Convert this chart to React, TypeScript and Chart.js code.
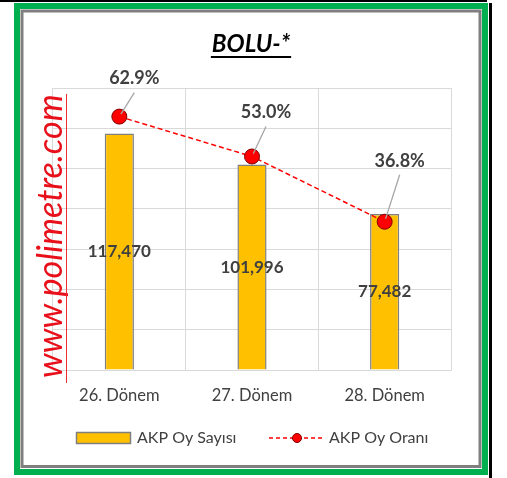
import React, { useEffect, useRef } from "react";
import { Chart, registerables } from "chart.js";

Chart.register(...registerables);

const TITLE = "BOLU-*";
const WATERMARK = "www.polimetre.com";
const CATEGORIES = ["26. Dönem", "27. Dönem", "28. Dönem"];
const VOTES = [117470, 101996, 77482];
const SHARES = [62.9, 53.0, 36.8];
const SERIES_BAR = "AKP Oy Sayısı";
const SERIES_LINE = "AKP Oy Oranı";

const W = 507;
const H = 478;
const FONT = "Lato, 'Open Sans', sans-serif";
const TEXT = "#404040";
const BAR_FILL = "#FFC000";
const BAR_EDGE = "#7F7F7F";
const RED = "#FF0000";
const GRID = "#D9D9D9";
const LABEL_OFFSETS = [
  [15, -38],
  [14, -44],
  [15, -61],
];

const fmt = (v: number) => v.toLocaleString("en-US");

const decor = {
  id: "decor",
  beforeDraw(chart: any) {
    const ctx = chart.ctx as CanvasRenderingContext2D;
    ctx.save();
    ctx.fillStyle = "#FFFFFF";
    ctx.fillRect(0, 0, W, H);
    ctx.fillStyle = "#000000";
    ctx.fillRect(0, 0, 487, 2);
    ctx.fillRect(489, 3, 3, H - 3);
    ctx.strokeStyle = "#00B050";
    ctx.lineWidth = 6;
    ctx.strokeRect(17, 6, 468, 466);
    ctx.strokeStyle = "#7F7F7F";
    ctx.lineWidth = 3;
    ctx.strokeRect(22, 11, 458, 455.5);
    ctx.restore();
  },
  afterDatasetsDraw(chart: any) {
    const ctx = chart.ctx as CanvasRenderingContext2D;
    ctx.save();
    const barMeta = chart.getDatasetMeta(0);
    ctx.fillStyle = TEXT;
    ctx.font = `bold 17px ${FONT}`;
    ctx.textAlign = "center";
    ctx.textBaseline = "middle";
    barMeta.data.forEach((el: any, i: number) => {
      ctx.fillText(fmt(VOTES[i]), el.x, (el.y + el.base) / 2);
    });
    const lineMeta = chart.getDatasetMeta(1);
    lineMeta.data.forEach((el: any, i: number) => {
      const [dx, dy] = LABEL_OFFSETS[i];
      const lx = el.x + dx;
      const ly = el.y + dy;
      const sx = lx;
      const sy = ly + 14;
      const vx = sx - el.x;
      const vy = sy - el.y;
      const len = Math.hypot(vx, vy);
      const ex = el.x + (vx / len) * 3;
      const ey = el.y + (vy / len) * 3;
      ctx.strokeStyle = "#A6A6A6";
      ctx.lineWidth = 1.3;
      ctx.beginPath();
      ctx.moveTo(sx, sy);
      ctx.lineTo(ex, ey);
      ctx.stroke();
      ctx.fillStyle = TEXT;
      ctx.font = `bold 18px ${FONT}`;
      ctx.fillText(SHARES[i].toFixed(1) + "%", lx, ly);
    });
    ctx.restore();
  },
  afterDraw(chart: any) {
    const ctx = chart.ctx as CanvasRenderingContext2D;
    ctx.save();
    ctx.fillStyle = "#000000";
    ctx.font = `italic bold 24px ${FONT}`;
    ctx.textAlign = "center";
    ctx.textBaseline = "alphabetic";
    ctx.fillText(TITLE, 251, 52);
    const tw = ctx.measureText(TITLE).width;
    ctx.fillRect(251 - tw / 2 - 1, 56, tw + 2, 2);

    ctx.font = `italic 100px ${FONT}`;
    const w100 = ctx.measureText(WATERMARK).width;
    const size = (284 / w100) * 100;
    ctx.font = `italic ${size}px ${FONT}`;
    ctx.fillStyle = "#E8101A";
    ctx.translate(62, 378);
    ctx.rotate(-Math.PI / 2);
    ctx.textAlign = "left";
    ctx.fillText(WATERMARK, 0, 0);
    ctx.setTransform(1, 0, 0, 1, 0, 0);
    ctx.strokeStyle = "#F03030";
    ctx.lineWidth = 1;
    ctx.beginPath();
    ctx.moveTo(66.5, 94);
    ctx.lineTo(66.5, 383);
    ctx.stroke();

    const ly = 438;
    ctx.fillStyle = BAR_FILL;
    ctx.strokeStyle = BAR_EDGE;
    ctx.lineWidth = 1.5;
    ctx.fillRect(76.5, 432.5, 54, 11);
    ctx.strokeRect(76.5, 432.5, 54, 11);
    ctx.fillStyle = TEXT;
    ctx.font = `16px ${FONT}`;
    ctx.textAlign = "left";
    ctx.textBaseline = "middle";
    ctx.fillText(SERIES_BAR, 137, ly);

    ctx.strokeStyle = RED;
    ctx.lineWidth = 1.5;
    ctx.setLineDash([4, 3]);
    ctx.beginPath();
    ctx.moveTo(269, ly);
    ctx.lineTo(324, ly);
    ctx.stroke();
    ctx.setLineDash([]);
    ctx.fillStyle = RED;
    ctx.strokeStyle = "#7F0000";
    ctx.lineWidth = 1;
    ctx.beginPath();
    ctx.arc(297, ly, 4.5, 0, Math.PI * 2);
    ctx.fill();
    ctx.stroke();
    ctx.fillStyle = TEXT;
    ctx.fillText(SERIES_LINE, 329, ly);
    ctx.restore();
  },
};

export default function App() {
  const ref = useRef<HTMLCanvasElement | null>(null);
  useEffect(() => {
    if (!ref.current) return;
    const chart = new Chart(ref.current, {
      type: "bar",
      data: {
        labels: CATEGORIES,
        datasets: [
          {
            type: "bar",
            label: SERIES_BAR,
            data: VOTES,
            backgroundColor: BAR_FILL,
            borderColor: BAR_EDGE,
            borderWidth: 1.5,
            barPercentage: 0.22,
            categoryPercentage: 1,
            yAxisID: "y",
            order: 2,
          },
          {
            type: "line",
            label: SERIES_LINE,
            data: SHARES,
            borderColor: RED,
            borderWidth: 1.5,
            borderDash: [5, 3],
            pointRadius: 7.5,
            pointBackgroundColor: RED,
            pointBorderColor: "#7F0000",
            pointBorderWidth: 1,
            yAxisID: "y2",
            order: 1,
          },
        ],
      },
      options: {
        responsive: false,
        animation: false,
        devicePixelRatio: 1,
        layout: { padding: { left: 53, right: 56, top: 88, bottom: 68 } },
        plugins: {
          legend: { display: false },
          title: { display: false },
          tooltip: { enabled: false },
        },
        scales: {
          x: {
            grid: { color: GRID, lineWidth: 1, drawTicks: false, offset: true },
            border: { display: true, color: GRID },
            ticks: {
              color: TEXT,
              font: { family: FONT, size: 16.5 },
              padding: 16,
            },
            afterFit: (s: any) => {
              s.height = 40;
            },
          },
          y: {
            min: 0,
            max: 140000,
            grid: { color: GRID, lineWidth: 1, drawTicks: false },
            border: { display: false },
            ticks: { display: false, stepSize: 20000 },
            afterFit: (s: any) => {
              s.width = 0;
            },
          },
          y2: {
            min: 0,
            max: 70,
            display: false,
            position: "right",
          },
        },
      },
      plugins: [decor],
    });
    return () => chart.destroy();
  }, []);
  return (
    <div style={{ position: "absolute", left: 0, top: 0, width: W, height: H }}>
      <canvas ref={ref} width={W} height={H} style={{ display: "block" }} />
    </div>
  );
}
